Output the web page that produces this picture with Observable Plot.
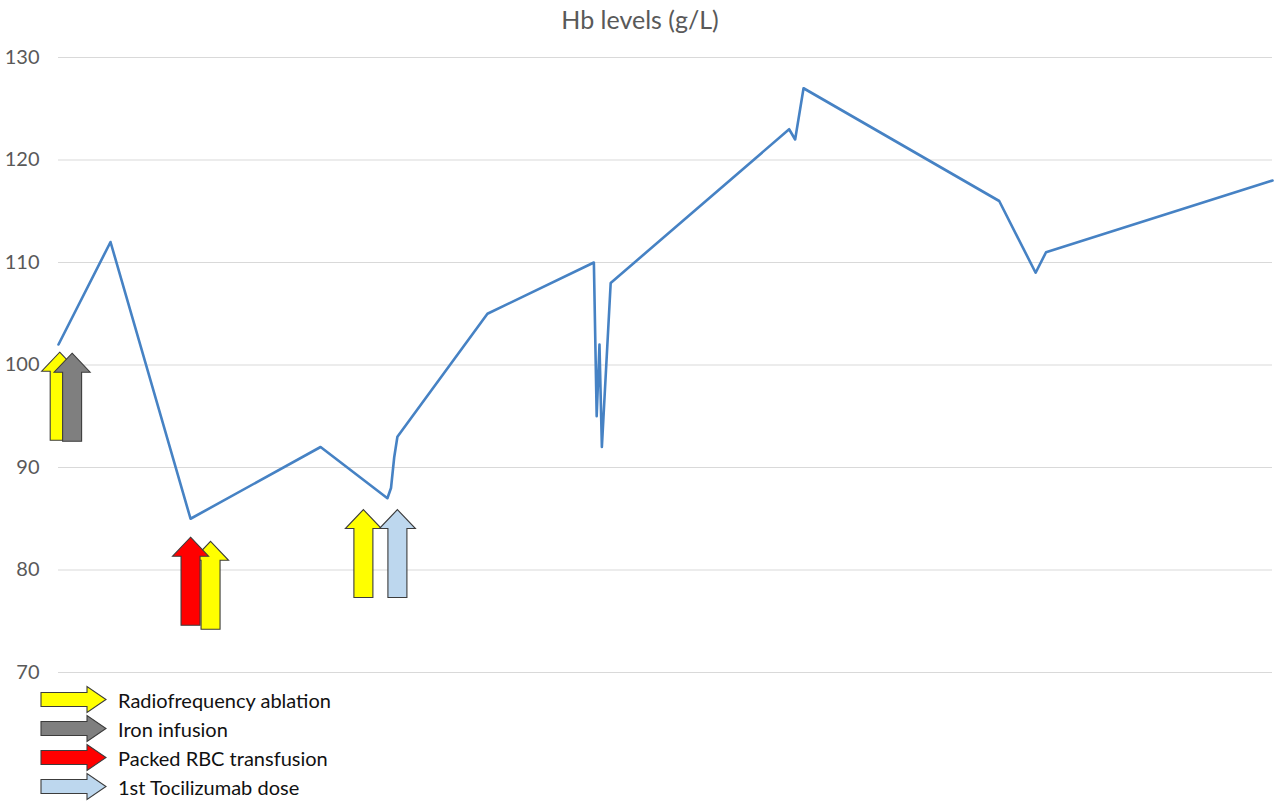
<!DOCTYPE html>
<html>
<head>
<meta charset="utf-8">
<script src="https://cdn.jsdelivr.net/npm/d3@7"></script>
<script src="https://cdn.jsdelivr.net/npm/@observablehq/plot@0.6"></script>
<style>
  body { margin: 0; background: #fff; font-family: Lato, "Open Sans", sans-serif; }
  #wrap { width: 1280px; height: 810px; position: relative; overflow: hidden; }
  #title { height: 36px; line-height: 38px; text-align: center; font-size: 25px; color: #595959; }
  #legend { position: absolute; left: 40px; top: 685px; }
  .row { height: 29px; display: flex; align-items: center; }
  .row svg { display: block; }
  .row span { margin-left: 11px; font-size: 20px; color: #111; }
</style>
</head>
<body>
<div id="wrap">
  <div id="title">Hb levels (g/L)</div>
  <div id="chart"></div>
  <div id="legend"></div>
</div>
<script>
"use strict";
// Hb measurements, x in days (no x labels in source), y in g/L
const hbDay = [0, 13, 33, 65.5, 82.2, 83.1, 83.9, 84.7, 107.2, 133.8, 134.5, 135.2, 135.8, 138,
  182.6, 184.1, 186.2, 235.1, 244.2, 246.8, 303.4];
const hbValue = [102, 112, 85, 92, 87, 88, 91, 93, 105, 110, 95, 102, 92, 108,
  123, 122, 127, 116, 109, 111, 118];

const yTicks = [70, 80, 90, 100, 110, 120, 130];

// interventions: arrow tip position (drawing order matters for overlaps)
const eventDay = [0.3, 3.4, 38, 33, 76.2, 84.7];
const eventTip = [101.25, 101.15, 82.8, 83.2, 85.9, 85.9];
const eventKind = ["rfa", "iron", "rfa", "rbc", "rfa", "toci"];

const kinds = ["rfa", "iron", "rbc", "toci"];
const kindLabel = { rfa: "Radiofrequency ablation", iron: "Iron infusion", rbc: "Packed RBC transfusion", toci: "1st Tocilizumab dose" };
const KIND_COLOR = { rfa: "#ffff00", iron: "#7f7f7f", rbc: "#ff0000", toci: "#bdd7ee" };

// block arrow pointing up, tip at the anchor point
const upArrow = {
  draw(ctx) {
    const hw = 18, hh = 19, sw = 9.5, len = 88;
    ctx.moveTo(0, 0);
    ctx.lineTo(hw, hh); ctx.lineTo(sw, hh); ctx.lineTo(sw, len);
    ctx.lineTo(-sw, len); ctx.lineTo(-sw, hh); ctx.lineTo(-hw, hh);
    ctx.closePath();
  }
};

const hb = hbDay.map((d, i) => ({ day: d, hb: hbValue[i] }));
const events = eventDay.map((d, i) => ({ day: d, tip: eventTip[i], kind: eventKind[i] }));

const chart = Plot.plot({
  width: 1280, height: 652,
  marginTop: 21, marginBottom: 16, marginLeft: 58, marginRight: 8,
  style: { fontFamily: "Lato, 'Open Sans', sans-serif", background: "#fff" },
  x: { domain: [0, 303.4], axis: null },
  y: { domain: [70, 130] },
  color: { type: "identity" },
  marks: [
    Plot.gridY(yTicks, { stroke: "#d9d9d9", strokeOpacity: 1, strokeWidth: 1.2 }),
    Plot.axisY(yTicks, { tickSize: 0, tickPadding: 19, fontSize: 20, color: "#595959", label: null }),
    Plot.line(hb, { x: "day", y: "hb", stroke: "#4682c4", strokeWidth: 2.6 }),
    Plot.dot(events, {
      x: "day", y: "tip", symbol: upArrow, r: 4,
      fill: (d) => KIND_COLOR[d.kind], stroke: "#3c3c3c", strokeWidth: 1.1,
    }),
  ],
});
document.getElementById("chart").appendChild(chart);

// legend: right-pointing arrows
const legend = document.getElementById("legend");
kinds.forEach((k) => {
  const row = document.createElement("div");
  row.className = "row";
  row.innerHTML = `<svg width="67" height="29" viewBox="0 0 67 29">
      <path d="M1,7.5 H47 V1.5 L66,14.5 L47,27.5 V21.5 H1 Z" fill="${KIND_COLOR[k]}" stroke="#3c3c3c" stroke-width="1.1"/>
    </svg><span>${kindLabel[k]}</span>`;
  legend.appendChild(row);
});
</script>
</body>
</html>
